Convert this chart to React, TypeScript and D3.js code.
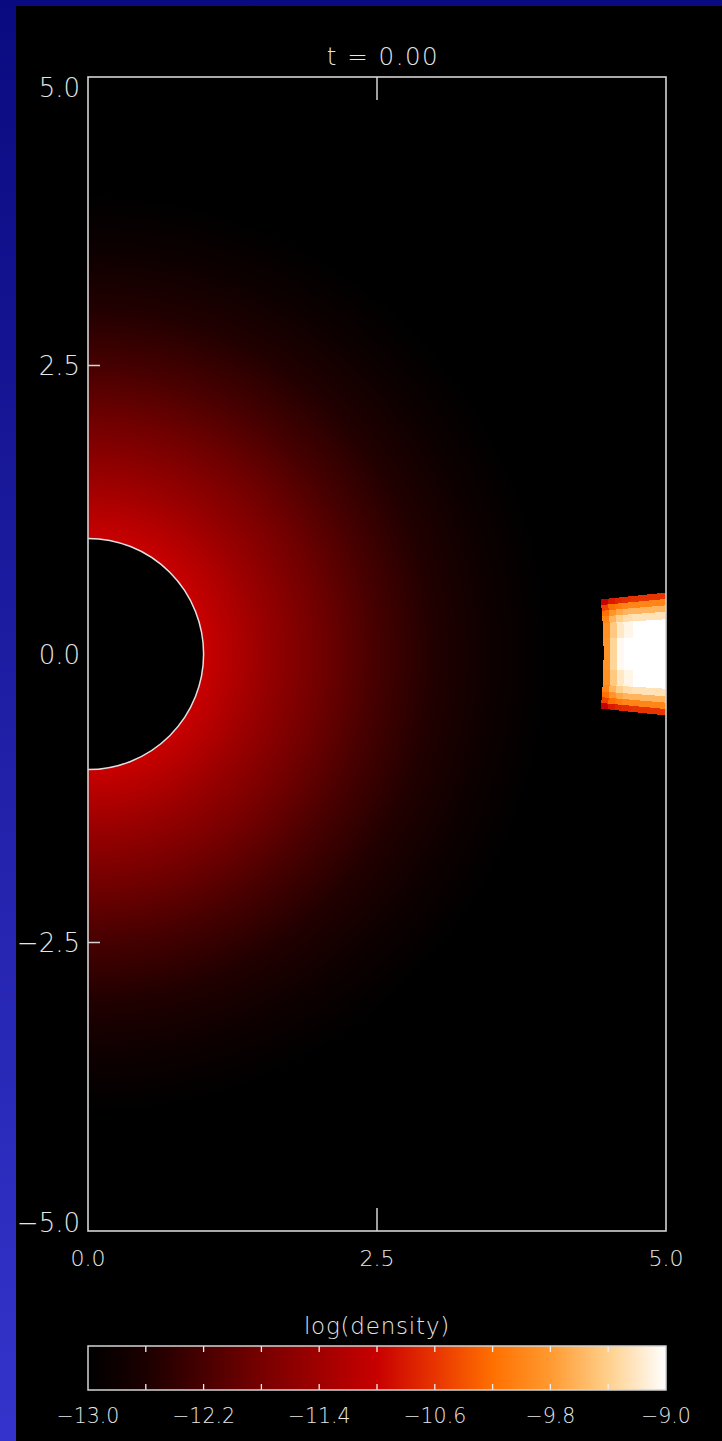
import React from "react";
import * as d3 from "d3";

// ---- data ----
const xTicks = [0, 2.5, 5];
const yTicks = [-5, -2.5, 0, 2.5, 5];
const innerXTicks = [2.5];
const innerYTicks = [-2.5, 0, 2.5];
const titleText = "t = 0.00";
const colorbarTitle = "log(density)";

// colour table (log density -> colour)
const cmapLevels = [-13.0, -12.6, -12.2, -11.8, -11.4, -11.0, -10.6, -10.2, -9.8, -9.4, -9.0];
const cmapColors = ["#000000", "#1c0000", "#480000", "#780000", "#a00000", "#c80000", "#e83400", "#ff7000", "#ff9a30", "#ffd08c", "#ffffff"];
const cbLabelValues = [-13.0, -12.2, -11.4, -10.6, -9.8, -9.0];
const cbTickValues = [-12.6, -12.2, -11.8, -11.4, -11.0, -10.6, -10.2, -9.8, -9.4];

// radial density profile of the envelope (r in stellar radii)
const profileR = [1.0, 1.25, 1.5, 2.0, 2.5, 3.0, 3.5, 4.0];
const profileLogRho = [-11.0, -11.22, -11.45, -11.85, -12.22, -12.55, -12.82, -13.0];
const starRadius = 1.0;

// dense clump on polar cells (rows: radius, cols: angle in rad)
const blobREdges = [4.46, 4.52, 4.58, 4.64, 4.72, 4.85, 5.0, 5.3];
const blobThetaEdges = [-0.106, -0.095, -0.084, -0.073, -0.06, -0.03, 0, 0.03, 0.06, 0.073, 0.084, 0.095, 0.106];
const blobLogRho = [
  [-11.0, -10.5, -10.2, -10.0, -9.9, -9.85, -9.85, -9.9, -10.0, -10.2, -10.5, -11.0],
  [-10.8, -10.2, -9.85, -9.6, -9.45, -9.35, -9.35, -9.45, -9.6, -9.85, -10.2, -10.8],
  [-10.7, -10.1, -9.7, -9.4, -9.2, -9.05, -9.05, -9.2, -9.4, -9.7, -10.1, -10.7],
  [-10.65, -10.0, -9.6, -9.3, -9.08, -9.0, -9.0, -9.08, -9.3, -9.6, -10.0, -10.65],
  [-10.6, -10.0, -9.6, -9.25, -9.0, -9.0, -9.0, -9.0, -9.25, -9.6, -10.0, -10.6],
  [-10.6, -10.0, -9.6, -9.25, -9.0, -9.0, -9.0, -9.0, -9.25, -9.6, -10.0, -10.6],
  [-10.6, -10.0, -9.6, -9.25, -9.0, -9.0, -9.0, -9.0, -9.25, -9.6, -10.0, -10.6],
];

const W = 722;
const H = 1441;

export default function App() {
  const x = d3.scaleLinear().domain([0, 5]).range([88, 666]);
  const y = d3.scaleLinear().domain([-5, 5]).range([1231, 77]);
  const cb = d3.scaleLinear().domain([-13, -9]).range([88, 666]);
  const color = d3
    .scaleLinear<string>()
    .domain(cmapLevels)
    .range(cmapColors)
    .interpolate(d3.interpolateRgb)
    .clamp(true);
  const fmt = d3.format(".1f");
  const pxPerUnit = x(1) - x(0);
  const cx = x(0);
  const cy = y(0);
  const gradR = x(5) - x(0);
  const font = "'DejaVu Sans', sans-serif";
  const txt = "#e6e6e6";
  const frame = "#d4d4d4";

  const arc = d3.arc();
  const blobCells: { d: string; c: string }[] = [];
  blobLogRho.forEach((row, i) => {
    row.forEach((v, j) => {
      const d = arc({
        innerRadius: blobREdges[i] * pxPerUnit,
        outerRadius: blobREdges[i + 1] * pxPerUnit,
        startAngle: Math.PI / 2 - blobThetaEdges[j + 1],
        endAngle: Math.PI / 2 - blobThetaEdges[j],
      } as any) as string;
      blobCells.push({ d, c: color(v) });
    });
  });

  const starPath = d3.arc()({
    innerRadius: 0,
    outerRadius: starRadius * pxPerUnit,
    startAngle: 0,
    endAngle: Math.PI,
  } as any) as string;
  const starOutline = d3
    .arc()
    .innerRadius(starRadius * pxPerUnit)
    .outerRadius(starRadius * pxPerUnit)({
    startAngle: 0,
    endAngle: Math.PI,
  } as any) as string;

  const yLabelBaseline = (v: number) => {
    const py = y(v);
    const c = Math.max(87.5, Math.min(1222.5, py));
    return c + 9.5;
  };

  return (
    <svg
      width={W}
      height={H}
      style={{ position: "absolute", left: 0, top: 0, display: "block" }}
    >
      <defs>
        <linearGradient id="bg" x1="0" y1="0" x2="0" y2="1">
          <stop offset="0" stopColor="#0a0a80" />
          <stop offset="1" stopColor="#3434cc" />
        </linearGradient>
        <radialGradient id="env" gradientUnits="userSpaceOnUse" cx={cx} cy={cy} r={gradR}>
          {profileR.map((r, i) => (
            <stop key={i} offset={r / 5} stopColor={color(profileLogRho[i])} />
          ))}
        </radialGradient>
        <linearGradient id="cbar" x1="0" y1="0" x2="1" y2="0">
          {cmapLevels.map((v, i) => (
            <stop key={i} offset={(v + 13) / 4} stopColor={cmapColors[i]} />
          ))}
        </linearGradient>
        <clipPath id="plotClip">
          <rect x={x(0)} y={y(5)} width={x(5) - x(0)} height={y(-5) - y(5)} />
        </clipPath>
      </defs>

      <rect x={0} y={0} width={W} height={H} fill="url(#bg)" />
      <rect x={16} y={6} width={W - 16} height={H - 6} fill="#000" />

      <g clipPath="url(#plotClip)">
        <rect x={x(0)} y={y(5)} width={x(5) - x(0)} height={y(-5) - y(5)} fill="url(#env)" />
        <g transform={`translate(${cx},${cy})`} shapeRendering="crispEdges">
          {blobCells.map((b, i) => (
            <path key={i} d={b.d} fill={b.c} />
          ))}
        </g>
      </g>

      {/* axis ticks */}
      {innerXTicks.map((v) => (
        <g key={"xt" + v}>
          <line x1={x(v)} x2={x(v)} y1={y(5)} y2={y(5) + 23} stroke={frame} strokeWidth={1.5} />
          <line x1={x(v)} x2={x(v)} y1={y(-5)} y2={y(-5) - 23} stroke={frame} strokeWidth={1.5} />
        </g>
      ))}
      {innerYTicks.map((v) => (
        <line key={"yt" + v} x1={x(0)} x2={x(0) + 12} y1={y(v)} y2={y(v)} stroke={frame} strokeWidth={1.5} />
      ))}

      {/* star */}
      <g transform={`translate(${cx},${cy})`}>
        <path d={starPath} fill="#000" />
        <path d={starOutline} fill="none" stroke="#e0e0e0" strokeWidth={1.5} />
      </g>

      {/* frame */}
      <rect
        x={x(0)}
        y={y(5)}
        width={x(5) - x(0)}
        height={y(-5) - y(5)}
        fill="none"
        stroke={frame}
        strokeWidth={1.6}
      />

      {/* tick labels */}
      {yTicks.map((v) => (
        <text
          key={"yl" + v}
          x={80}
          y={yLabelBaseline(v)}
          textAnchor="end"
          fontFamily={font}
          fontWeight={200}
          fontSize={26}
          fill={txt}
        >
          {fmt(v)}
        </text>
      ))}
      {xTicks.map((v) => (
        <text
          key={"xl" + v}
          x={x(v)}
          y={1266}
          textAnchor="middle"
          fontFamily={font}
          fontWeight={200}
          fontSize={22}
          fill={txt}
        >
          {fmt(v)}
        </text>
      ))}
      <text
        x={383}
        y={65}
        textAnchor="middle"
        fontFamily={font}
        fontWeight={200}
        fontSize={24.5}
        letterSpacing={1.5}
        fill={txt}
        style={{ whiteSpace: "pre" }}
      >
        {titleText}
      </text>

      {/* colour bar */}
      <text
        x={377}
        y={1334}
        textAnchor="middle"
        fontFamily={font}
        fontWeight={200}
        fontSize={23}
        letterSpacing={0.8}
        fill={txt}
      >
        {colorbarTitle}
      </text>
      <rect x={cb(-13)} y={1346} width={cb(-9) - cb(-13)} height={44} fill="url(#cbar)" />
      {cbTickValues.map((v) => (
        <g key={"cbt" + v}>
          <line x1={cb(v)} x2={cb(v)} y1={1346} y2={1352} stroke="#f0f0f0" strokeWidth={1.3} />
          <line x1={cb(v)} x2={cb(v)} y1={1390} y2={1384} stroke="#f0f0f0" strokeWidth={1.3} />
        </g>
      ))}
      <rect
        x={cb(-13)}
        y={1346}
        width={cb(-9) - cb(-13)}
        height={44}
        fill="none"
        stroke={frame}
        strokeWidth={1.5}
      />
      {cbLabelValues.map((v) => (
        <text
          key={"cbl" + v}
          x={cb(v)}
          y={1423}
          textAnchor="middle"
          fontFamily={font}
          fontWeight={200}
          fontSize={20.5}
          fill={txt}
        >
          {fmt(v)}
        </text>
      ))}
    </svg>
  );
}
